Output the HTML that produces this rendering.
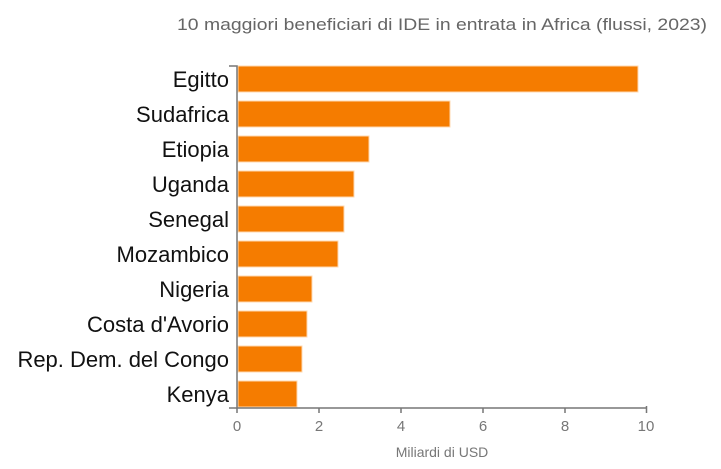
<!DOCTYPE html>
<html><head><meta charset="utf-8"><style>
body{margin:0;background:#fff}
svg{display:block;font-family:"Liberation Sans",sans-serif}
</style></head><body>
<svg width="721" height="469" viewBox="0 0 721 469">
<text x="707" y="30" text-anchor="end" font-size="17" fill="#666" textLength="530" lengthAdjust="spacingAndGlyphs">10 maggiori beneficiari di IDE in entrata in Africa (flussi, 2023)</text>
<g fill="#f57c00" stroke="#ffd9b0" stroke-width="1">
<rect x="238" y="66" width="400" height="26"/>
<rect x="238" y="101" width="212" height="26"/>
<rect x="238" y="136" width="131" height="26"/>
<rect x="238" y="171" width="116" height="26"/>
<rect x="238" y="206" width="106" height="26"/>
<rect x="238" y="241" width="100" height="26"/>
<rect x="238" y="276" width="74" height="26"/>
<rect x="238" y="311" width="69" height="26"/>
<rect x="238" y="346" width="64" height="26"/>
<rect x="238" y="381" width="59" height="26"/>
</g>
<g font-size="22" fill="#111" text-anchor="end">
<text x="229" y="87">Egitto</text>
<text x="229" y="122">Sudafrica</text>
<text x="229" y="157">Etiopia</text>
<text x="229" y="192">Uganda</text>
<text x="229" y="227">Senegal</text>
<text x="229" y="262">Mozambico</text>
<text x="229" y="297">Nigeria</text>
<text x="229" y="332">Costa d'Avorio</text>
<text x="229" y="367">Rep. Dem. del Congo</text>
<text x="229" y="402">Kenya</text>
</g>
<g stroke="#777" stroke-width="1.5" fill="none">
<path d="M229 66H237V408H647"/>
<path d="M229 408H237"/>
<path d="M237 408V413M319 408V413M401 408V413M483 408V413M565 408V413M646.5 406V413"/>
</g>
<g font-size="15" fill="#777" text-anchor="middle">
<text x="237" y="431">0</text>
<text x="319" y="431">2</text>
<text x="401" y="431">4</text>
<text x="483" y="431">6</text>
<text x="565" y="431">8</text>
<text x="646" y="431">10</text>
<text x="442" y="457" font-size="14">Miliardi di USD</text>
</g>
</svg>
</body></html>
